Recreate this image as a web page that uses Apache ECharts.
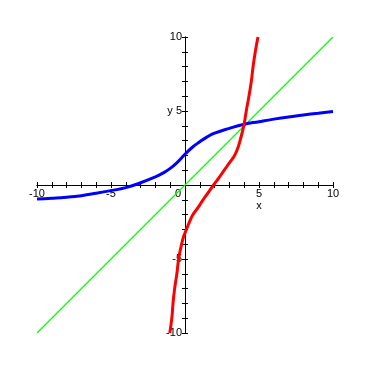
<!DOCTYPE html>
<html>
<head>
<meta charset="utf-8">
<script src="https://cdn.jsdelivr.net/npm/echarts@6/dist/echarts.min.js"></script>
<style>
  html, body { margin: 0; padding: 0; background: #fff; }
  #main { width: 370px; height: 370px; }
</style>
</head>
<body>
<div id="main"></div>
<script>
  // blue curve
  var blueX = [-10, -9, -8, -7, -6, -5, -4, -3, -2, -1.5, -1, -0.5, 0, 0.5, 1, 1.5, 2, 3, 4, 5, 6, 7, 8, 9, 10];
  var blueY = [-0.95, -0.9, -0.83, -0.72, -0.56, -0.38, -0.18, 0.15, 0.55, 0.8, 1.12, 1.55, 2.08, 2.55, 2.92, 3.25, 3.5, 3.83, 4.1, 4.28, 4.45, 4.6, 4.73, 4.85, 4.97];
  // red curve
  var redX = [-1.03, -0.89, -0.81, -0.7, -0.55, -0.43, -0.23, -0.1, 0, 0.3, 0.54, 0.9, 1.22, 1.58, 1.93, 2.3, 2.65, 3.0, 3.35, 3.57, 3.72, 3.97, 4.14, 4.32, 4.48, 4.6, 4.75, 4.93];
  var redY = [-10, -9, -8, -7, -6, -5, -4, -3.5, -3.24, -2.5, -2, -1.5, -1, -0.5, 0, 0.5, 1, 1.5, 2, 2.5, 3, 4, 5, 6, 7, 8, 9, 10];
  // y = x
  var greenX = [-10, 10];
  var greenY = [-10, 10];
  // tick labels
  var xLabels = {'-10': '-10', '-5': '-5', '0': '{z|0}', '5': '5\nx', '10': '10'};
  var yLabels = {'-10': '-10', '-5': '-5', '5': 'y 5', '10': '10'};

  function pairs(xs, ys){
    return xs.map(function(x, i){ return [x, ys[i]]; });
  }

  var font = 'Liberation Sans, Arial, sans-serif';
  var axisColor = { color: '#000', width: 1 };
  var half = 148; // grid is 296 square, zero sits in the middle

  // two axes per direction so the ticks cross the line on both sides
  function axisCfg(pos, labels, showLabel){
    return {
      type: 'value', min: -10, max: 10, interval: 1,
      position: pos, offset: -half,
      axisLine: { show: true, onZero: false, lineStyle: axisColor },
      axisTick: { show: true, inside: false, length: 3, lineStyle: axisColor },
      splitLine: { show: false },
      axisLabel: {
        show: showLabel, interval: 0, margin: 3, color: '#000',
        fontSize: 11, fontFamily: font, lineHeight: 12,
        showMinLabel: true, showMaxLabel: true,
        formatter: function(v){ return labels[String(v)] || ''; },
        rich: { z: { fontSize: 11, fontFamily: font, color: '#000', padding: [0, 14, 0, 0] } }
      }
    };
  }

  var chart = echarts.init(document.getElementById('main'), null, { renderer: 'canvas' });
  chart.setOption({
    animation: false,
    backgroundColor: '#fff',
    color: ['#00ff00', '#0000ff', '#ff0000'],
    grid: { left: 37, top: 37, width: 296, height: 296, containLabel: false },
    xAxis: [axisCfg('bottom', xLabels, true), axisCfg('top', xLabels, false)],
    yAxis: [axisCfg('left', yLabels, true), axisCfg('right', yLabels, false)],
    series: [
      {
        type: 'line', data: pairs(greenX, greenY), symbol: 'none',
        color: '#00ff00',
        lineStyle: { color: '#00ff00', width: 1.2, opacity: 1 }
      },
      {
        type: 'line', data: pairs(blueX, blueY), symbol: 'none', smooth: 0.5,
        lineStyle: { color: '#0000ff', width: 3 }
      },
      {
        type: 'line', data: pairs(redX, redY), symbol: 'none', smooth: 0.5,
        lineStyle: { color: '#ff0000', width: 3 }
      }
    ]
  });
</script>
</body>
</html>
